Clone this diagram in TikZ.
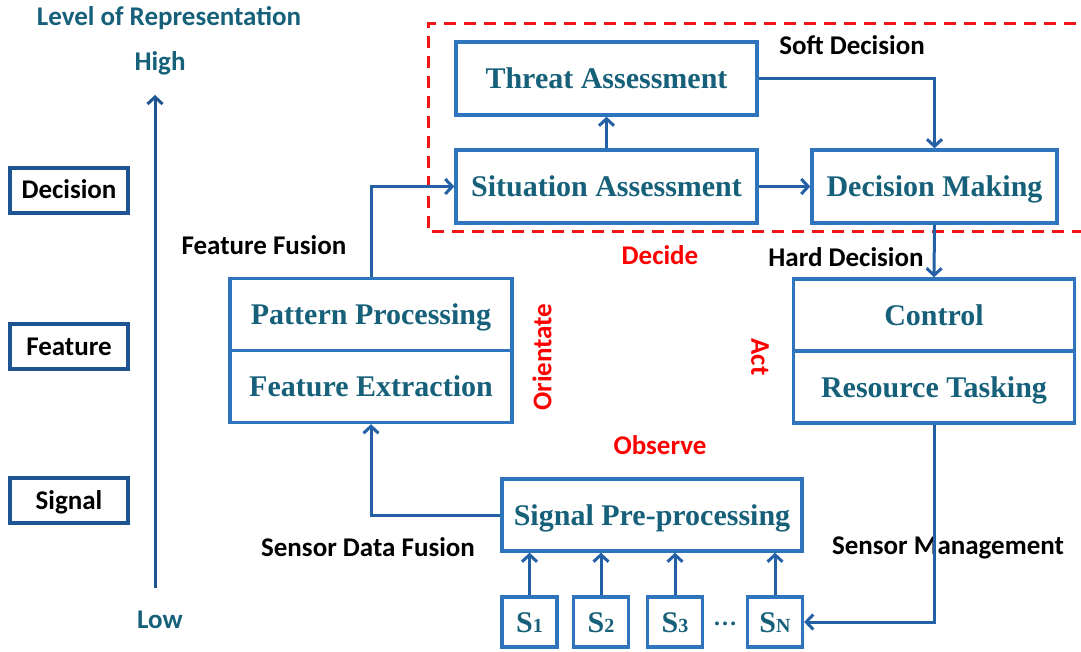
\documentclass[tikz,border=0pt]{standalone}
\usepackage{fontspec}
\setmainfont{Liberation Serif}
\newfontfamily\labfont{Carlito}
\usetikzlibrary{arrows.meta}
\definecolor{boxblue}{RGB}{46,117,190}
\definecolor{linkblue}{RGB}{36,96,166}
\definecolor{axisblue}{RGB}{30,84,145}
\definecolor{tealtext}{RGB}{22,96,122}
\definecolor{dashred}{RGB}{240,20,20}
\tikzset{
  stage/.style={draw=boxblue, line width=3.4pt, fill=white, inner sep=0pt,
    font=\fontsize{30}{32}\selectfont\bfseries, text=tealtext,
    text height=20pt, text depth=0pt},
  sensor/.style={stage, minimum width=55pt, minimum height=50pt},
  level/.style={draw=axisblue, line width=3.4pt, inner sep=0pt,
    minimum width=118pt, minimum height=45pt,
    font=\labfont\fontsize{27}{29}\selectfont\bfseries, text=black,
    text height=17pt, text depth=0pt},
  tag/.style={font=\labfont\fontsize{27}{29}\selectfont\bfseries, text=black},
  phase/.style={font=\labfont\fontsize{27}{29}\selectfont\bfseries, text=red},
  axislabel/.style={font=\labfont\fontsize{27}{29}\selectfont\bfseries, text=tealtext},
  link/.style={draw=linkblue, line width=3pt,
    -{Straight Barb[length=7pt,width=15pt,line width=3pt]}}
}
\newcommand{\sub}[1]{{\fontsize{20}{20}\selectfont #1}}
\begin{document}
\begin{tikzpicture}[x=1pt,y=-1pt]
\useasboundingbox (0,0) rectangle (1081,652);

% decision group outline (runs past the right edge)
\draw[dashred, line width=3pt, dash pattern=on 12pt off 8pt]
  (1096,24) -- (428,24) -- (428,232) -- (1096,232);

% level-of-representation axis
\node[axislabel] (title) at (169,18) {Level of Representation};
\node[axislabel] (high) at (160,63) {High};
\node[axislabel] (low) at (160,620) {Low};
\coordinate (axbot) at (155,588);
\coordinate (axtop) at (155,95);
\draw[draw=axisblue, line width=3pt,
  -{Straight Barb[length=7pt,width=15pt,line width=3pt]}] (axbot) -- (axtop);
\node[level] (lvdec) at (69,190.5) {Decision};
\node[level] (lvfeat) at (69,346.5) {Feature};
\node[level] (lvsig) at (69,500.5) {Signal};

% processing stages
\node[stage, minimum width=301pt, minimum height=73pt] (ta) at (606.5,78.5) {Threat Assessment};
\node[stage, minimum width=301pt, minimum height=73pt] (sa) at (606.5,186.5) {Situation Assessment};
\node[stage, minimum width=245pt, minimum height=73pt] (dm) at (934.5,186.5) {Decision Making};
\node[stage, minimum width=282pt, minimum height=72pt] (pp) at (371,314.5) {Pattern Processing};
\node[stage, minimum width=282pt, minimum height=72pt] (fe) at (371,386.5) {Feature Extraction};
\node[stage, minimum width=281pt, minimum height=72pt] (ctl) at (934,315) {Control};
\node[stage, minimum width=281pt, minimum height=72pt] (rt) at (934,387) {Resource Tasking};
\node[stage, minimum width=300pt, minimum height=72pt] (spp) at (652,515) {Signal Pre-processing};

% sensors
\node[sensor] (s1) at (529.5,622) {S\sub{1}};
\node[sensor] (s2) at (601,622) {S\sub{2}};
\node[sensor] (s3) at (675,622) {S\sub{3}};
\node[sensor] (sn) at (775,622) {S\sub{N}};
\node[font=\fontsize{24}{24}\selectfont\bfseries, text=tealtext] (dots) at (725,624) {\dots};

% labels
\node[tag] (soft) at (852,45) {Soft Decision};
\node[tag] (ffus) at (264,245) {Feature Fusion};
\node[tag] (hard) at (846,257) {Hard Decision};
\node[tag] (sdf) at (368,547) {Sensor Data Fusion};
\node[tag] (smg) at (948,548) {Sensor Management};
\node[phase] (decide) at (660,255) {Decide};
\node[phase] (observe) at (660,445) {Observe};
\node[phase, rotate=90] (orient) at (542,357) {Orientate};
\node[phase, rotate=-90] (act) at (760,357) {Act};

% connectors
\draw[link] (pp.north) |- (sa.west);
\draw[link] (sa.north) -- (ta.south);
\draw[link] (sa.east) -- (dm.west);
\draw[link] (ta.east) -| (dm.north);
\draw[link] (dm.south) -- (ctl.north);
\draw[link] (spp.west) -| (fe.south);
\draw[link] (rt.south) |- (sn.east);
\foreach \s in {s1,s2,s3,sn}
  \draw[link] (\s.north) -- (\s.north |- spp.south);
\end{tikzpicture}
\end{document}
